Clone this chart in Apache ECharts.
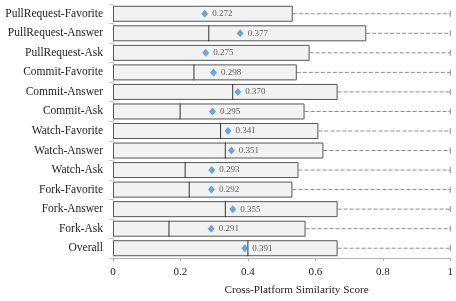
<!DOCTYPE html>
<html>
<head>
<meta charset="utf-8">
<script src="https://cdn.jsdelivr.net/npm/echarts@6/dist/echarts.min.js"></script>
<style>html,body{margin:0;padding:0;background:#fff}#c{width:456px;height:301px}</style>
</head>
<body>
<div id="c"></div>
<script>
var categories = ["PullRequest-Favorite","PullRequest-Answer","PullRequest-Ask","Commit-Favorite","Commit-Answer","Commit-Ask","Watch-Favorite","Watch-Answer","Watch-Ask","Fork-Favorite","Fork-Answer","Fork-Ask","Overall"];
var barEnd = [0.533,0.751,0.583,0.545,0.666,0.568,0.609,0.624,0.550,0.532,0.666,0.571,0.666];
var median = [0,0.284,0,0.240,0.355,0.199,0.319,0.333,0.214,0.226,0.333,0.166,0.400];
var mean = [0.272,0.377,0.275,0.298,0.370,0.295,0.341,0.351,0.293,0.292,0.355,0.291,0.391];
var xTicks = [0,0.2,0.4,0.6,0.8,1];

var serif = '"Liberation Serif","DejaVu Serif",serif';
var chart = echarts.init(document.getElementById('c'));
chart.setOption({
  animation:false,
  grid:{left:113,top:4,width:338,height:256},
  xAxis:{type:'value',min:0,max:1,interval:0.2,
    axisLine:{show:true,lineStyle:{color:'#b0b0b0'}},
    axisTick:{show:true,length:3,lineStyle:{color:'#b0b0b0'}},
    splitLine:{show:false},
    axisLabel:{color:'#222',fontFamily:serif,fontSize:11,margin:9,
      formatter:function(v){var i=xTicks.indexOf(Math.round(v*10)/10);return i>=0?String(xTicks[i]):'';}},
    name:'Cross-Platform Similarity Score',nameLocation:'middle',nameGap:27,
    nameTextStyle:{color:'#222',fontFamily:serif,fontSize:11.2,padding:[0,0,0,30]}},
  yAxis:{type:'category',data:categories,inverse:true,
    axisLine:{show:true,lineStyle:{color:'#c8c8c8'}},
    axisTick:{show:true,length:4,lineStyle:{color:'#c8c8c8'}},
    axisLabel:{color:'#222',fontFamily:serif,fontSize:11.5,margin:10}},
  series:[
    {type:'custom',renderItem:function(params,api){
      var i=api.value(0);
      var y=api.coord([0,i])[1];
      var xe=api.coord([api.value(1),i])[0];
      var x1=api.coord([1,i])[0];
      return {type:'group',children:[
        {type:'line',shape:{x1:xe,y1:y,x2:x1,y2:y},style:{stroke:'#8c8c8c',lineWidth:1,lineDash:[4,2]}},
        {type:'line',shape:{x1:x1,y1:y-3,x2:x1,y2:y+3},style:{stroke:'#8c8c8c',lineWidth:1}}
      ]};
    },encode:{y:0,x:1},data:barEnd.map(function(v,i){return [i,v];}),z:1},
    {type:'bar',data:barEnd,barWidth:16,z:2,
      itemStyle:{color:'#f2f2f2',borderColor:'#555',borderWidth:1}},
    {type:'custom',renderItem:function(params,api){
      var i=api.value(0);
      var m=api.value(1);
      if(!(m>0)) return null;
      var p=api.coord([m,i]);
      return {type:'line',shape:{x1:p[0],y1:p[1]-8,x2:p[0],y2:p[1]+8},style:{stroke:'#333',lineWidth:1}};
    },encode:{y:0,x:1},data:median.map(function(v,i){return [i,v];}),z:3},
    {type:'scatter',data:mean.map(function(v,i){return [v,i];}),symbol:'diamond',symbolSize:[7,8],z:4,
      itemStyle:{color:'#4a8fd6'},
      label:{show:true,position:'right',distance:4,color:'#333',fontFamily:serif,fontSize:9,
        formatter:function(p){return p.value[0].toFixed(3);}}}
  ]
});
</script>
</body>
</html>
